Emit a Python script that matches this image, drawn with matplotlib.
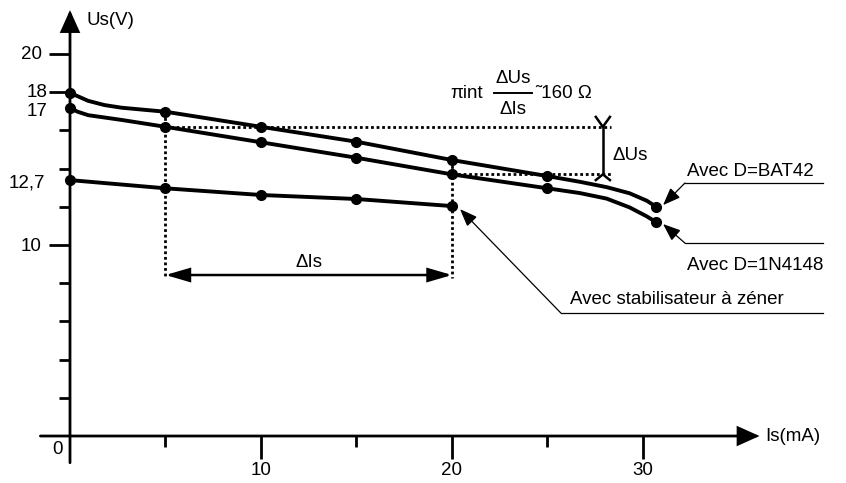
import numpy as np
import matplotlib
matplotlib.use('Agg')
import matplotlib.pyplot as plt

plt.rcParams['font.family'] = ['Liberation Sans', 'DejaVu Sans']

# courbe Us = f(Is), diode BAT42 (lecture sur le graphe)
is_bat = [0, 0.95, 1.8, 2.7, 4.45, 5, 10, 15, 20, 25, 26.7, 28.1, 29.3, 30.2, 30.7]
us_bat = [17.97, 17.55, 17.33, 17.19, 17.03, 16.98, 16.19, 15.41, 14.45, 13.61, 13.31, 13.03, 12.71, 12.32, 12.0]
# diode 1N4148
is_1n = [0, 0.4, 0.95, 2.7, 5, 10, 15, 20, 25, 26.7, 28.1, 29.3, 30.2, 30.7]
us_1n = [17.17, 16.98, 16.80, 16.55, 16.19, 15.38, 14.57, 13.70, 12.97, 12.72, 12.43, 11.97, 11.50, 11.19]
# stabilisateur a zener
is_zen = [0, 5, 10, 15, 20]
us_zen = [13.4, 12.97, 12.62, 12.41, 12.04]

# points de mesure
pts_is = [0, 5, 10, 15, 20, 25, 30.7]
pts_bat = [17.97, 16.98, 16.19, 15.41, 14.45, 13.61, 12.0]
pts_1n = [17.17, 16.19, 15.38, 14.57, 13.70, 12.97, 11.19]

y_ticks = [2, 4, 6, 8, 10, 12, 14, 16, 18, 20]
y_long = [10, 18, 20]
x_ticks = [5, 10, 15, 20, 25, 30]
x_long = [10, 20, 30]
x_labels = ['10', '20', '30']

FS = 13.5
LW_AX = 2.0

fig = plt.figure(figsize=(8.46, 4.83), dpi=100)
ax = fig.add_axes([0, 0, 1, 1])
ax.set_xlim(-3.665, 40.63)
ax.set_ylim(-2.46, 22.83)
ax.axis('off')


def arrow(tip, start, lw=1.0, style='-|>,head_length=0.9,head_width=0.35', ms=12):
    ax.annotate('', xy=tip, xytext=start,
                arrowprops=dict(arrowstyle=style, lw=lw, color='black',
                                shrinkA=0, shrinkB=0, mutation_scale=ms,
                                joinstyle='miter'))


# axes
arrow((0, 22.3), (0, -1.4), lw=LW_AX, style='-|>,head_length=1.0,head_width=0.45', ms=13)
arrow((36.1, 0), (-1.55, 0), lw=LW_AX, style='-|>,head_length=1.0,head_width=0.45', ms=13)

for t in y_ticks:
    ln = 1.1 if t in y_long else 0.55
    ax.plot([-ln, 0], [t, t], color='black', lw=LW_AX, solid_capstyle='butt')
for t in x_ticks:
    ln = 1.2 if t in x_long else 0.6
    ax.plot([t, t], [0, -ln], color='black', lw=LW_AX, solid_capstyle='butt')

for t, lab in zip(x_long, x_labels):
    ax.text(t, -1.78, lab, ha='center', va='center', fontsize=FS)
ax.text(-0.63, -0.73, '0', ha='center', va='center', fontsize=FS)
ax.text(-1.47, 20, '20', ha='right', va='center', fontsize=FS)
ax.text(-1.2, 17.97, '18', ha='right', va='center', fontsize=FS)
ax.text(-1.2, 16.98, '17', ha='right', va='center', fontsize=FS)
ax.text(-1.31, 13.25, '12,7', ha='right', va='center', fontsize=FS)
ax.text(-1.47, 9.9, '10', ha='right', va='center', fontsize=FS)
ax.text(0.89, 21.78, 'Us(V)', ha='left', va='center', fontsize=FS)
ax.text(36.39, 0, 'Is(mA)', ha='left', va='center', fontsize=FS)

# constructions en pointilles
dot = dict(color='black', lw=2.0, linestyle=(0, (1, 1)))
i5, i20 = is_1n.index(5), is_1n.index(20)
u_hi, u_lo = us_1n[i5], us_1n[i20]
ax.plot([5, 5], [pts_bat[1], 8.27], **dot)
ax.plot([20, 20], [pts_bat[4], 8.27], **dot)
ax.plot([5, 28.3], [u_hi, u_hi], **dot)
ax.plot([20, 28.3], [u_lo, u_lo], **dot)

# courbes
for xs, ys in [(is_bat, us_bat), (is_1n, us_1n), (is_zen, us_zen)]:
    ax.plot(xs, ys, color='black', lw=2.8, solid_capstyle='round', solid_joinstyle='round')
ax.plot(pts_is, pts_bat, 'o', color='black', ms=7)
ax.plot(pts_is, pts_1n, 'o', color='black', ms=7)
ax.plot(is_zen, us_zen, 'o', color='black', ms=7)

# delta Us
xu = 27.9
ax.plot([xu, xu], [u_hi, u_lo], color='black', lw=1.8)
ax.plot([xu - 0.37, xu, xu + 0.37], [u_hi + 0.52, u_hi, u_hi + 0.52], color='black', lw=1.8)
ax.plot([xu - 0.37, xu, xu + 0.37], [u_lo - 0.3, u_lo, u_lo - 0.3], color='black', lw=1.8)
ax.text(28.38, 14.45, '\u0394Us', ha='left', va='baseline', fontsize=FS)

# delta Is
arrow((20, 8.43), (5, 8.43), lw=1.8, style='<|-|>,head_length=1.2,head_width=0.35', ms=12)
ax.text(12.51, 8.85, '\u0394Is', ha='center', va='baseline', fontsize=FS)

# formule
ax.text(19.9, 17.7, '\u03c0int', ha='left', va='baseline', fontsize=FS)
ax.text(23.2, 18.48, '\u0394Us', ha='center', va='baseline', fontsize=FS)
ax.plot([22.2, 24.19], [17.97, 17.97], color='black', lw=1.4)
ax.text(23.2, 16.86, '\u0394Is', ha='center', va='baseline', fontsize=FS)
ax.text(24.35, 17.7, '\u02dc160 \u03a9', ha='left', va='baseline', fontsize=FS)

# legendes
ax.text(32.3, 13.61, 'Avec D=BAT42', ha='left', va='baseline', fontsize=FS)
ax.plot([39.42, 32.2], [13.25, 13.25], color='black', lw=0.9)
arrow((31.05, 12.09), (32.2, 13.25), lw=0.9)

ax.text(32.3, 8.69, 'Avec D=1N4148', ha='left', va='baseline', fontsize=FS)
ax.plot([39.42, 32.2], [10.1, 10.1], color='black', lw=0.9)
arrow((31.05, 11.1), (32.2, 10.1), lw=0.9)

ax.text(26.18, 6.91, 'Avec stabilisateur \u00e0 z\u00e9ner', ha='left', va='baseline', fontsize=FS)
ax.plot([39.42, 25.7], [6.44, 6.44], color='black', lw=0.9)
arrow((20.42, 11.88), (25.7, 6.44), lw=0.9)

fig.savefig('out.png', dpi=100)
